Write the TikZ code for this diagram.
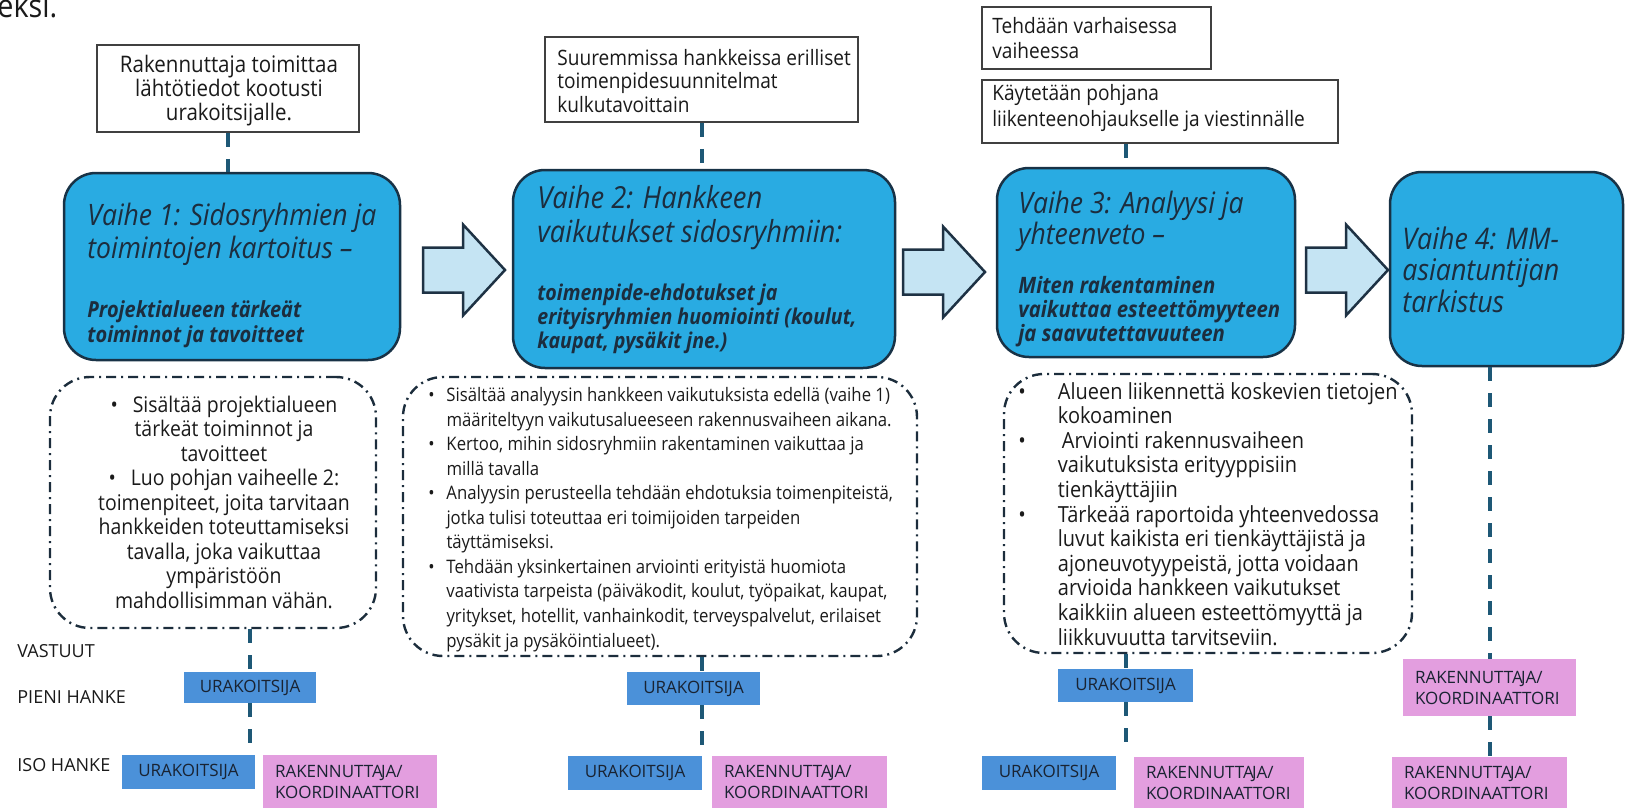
\documentclass[tikz,border=0pt]{standalone}
\usepackage{fontspec}
\usepackage{array}
\setmainfont[FakeStretch=0.9]{Open Sans}
\newfontfamily\capsfont{Open Sans}
\usetikzlibrary{calc}
\newcommand{\fsz}[2]{\fontsize{#1}{#2}\selectfont}
\newcommand{\rakko}{RAKENNUTTA\kern-0.9ptJA/\\KOORDINAATTORI}
\definecolor{phaseblue}{RGB}{41,171,226}
\definecolor{phaseline}{RGB}{24,50,70}
\definecolor{arrowfill}{RGB}{197,228,243}
\definecolor{arrowline}{RGB}{30,50,68}
\definecolor{linkteal}{RGB}{30,88,118}
\definecolor{ddline}{RGB}{28,45,60}
\definecolor{noteline}{RGB}{64,64,64}
\definecolor{urakblue}{RGB}{75,145,217}
\definecolor{rakpink}{RGB}{227,158,223}
\definecolor{boxtext}{RGB}{25,35,50}
\definecolor{titletext}{RGB}{28,45,62}
\definecolor{bodytext}{RGB}{26,26,26}
\tikzset{
  phase/.style={draw=phaseline, line width=1.25pt, fill=phaseblue, rounded corners=16pt, inner sep=0pt},
  note/.style={draw=noteline, line width=0.75pt, fill=white, inner sep=0pt},
  ddbox/.style={draw=ddline, line width=1.2pt, rounded corners=20pt, dash pattern=on 5pt off 2.5pt on 1pt off 2.5pt, inner sep=0pt},
  link/.style={draw=linkteal, line width=2pt, dash pattern=on 7pt off 6pt},
  blockarrow/.style={draw=arrowline, line width=1.25pt, fill=arrowfill, line join=miter},
  urak/.style={fill=urakblue, inner sep=0pt, text=boxtext, font=\capsfont\fsz{8.5}{10.5}},
  rak/.style={fill=rakpink, inner xsep=6pt, inner ysep=0pt, align=left, text=boxtext, font=\capsfont\fsz{8.5}{10.5}},
  txt/.style={inner sep=0pt, anchor=base west, text=bodytext},
  ctxt/.style={inner sep=0pt, anchor=base, text=bodytext},
  ttl/.style={inner sep=0pt, anchor=base west, text=titletext},
}
\begin{document}
\begin{tikzpicture}[x=0.5pt,y=-0.5pt]
\useasboundingbox (0,0) rectangle (1627,809);
\clip (0,0) rectangle (1627,809);

% fragment of text cut at the top
\node[txt] (frag) at (-3,17) {\fsz{16}{19}eksi.};

% top notes
\node[note, minimum width=131pt, minimum height=43.5pt] (n1) at (228,88.5) {};
\node[note, minimum width=156.5pt, minimum height=42.5pt] (n2) at (701.5,79.5) {};
\node[note, minimum width=114.5pt, minimum height=31pt] (n3a) at (1096.5,38) {};
\node[note, minimum width=178pt, minimum height=31.5pt] (n3b) at (1160,111.5) {};

\node[ctxt] (n1t) at (229,72) {\fsz{11.4}{11.5}\begin{tabular}[t]{@{}c@{}}Rakennuttaja toimittaa\\lähtötiedot kootusti\\urakoitsijalle.\end{tabular}};
\node[txt] (n2t) at (557,65) {\fsz{10.6}{11.75}\begin{tabular}[t]{@{}l@{}}Suuremmissa hankkeissa erilliset\\toimenpidesuunnitelmat\\kulkutavoittain\end{tabular}};
\node[txt] (n3at) at (992,33) {\fsz{10.6}{12.5}\begin{tabular}[t]{@{}l@{}}Tehdään varhaisessa\\vaiheessa\end{tabular}};
\node[txt] (n3bt) at (992,100) {\fsz{10.6}{13}\begin{tabular}[t]{@{}l@{}}Käytetään pohjana\\liikenteenohjaukselle ja viestinnälle\end{tabular}};

% phase boxes
\node[phase, minimum width=168pt, minimum height=93.5pt] (v1) at (232,266.5) {};
\node[phase, minimum width=191pt, minimum height=99pt] (v2) at (704,269) {};
\node[phase, minimum width=149pt, minimum height=94.5pt] (v3) at (1146,262.5) {};
\node[phase, minimum width=116.5pt, minimum height=97pt] (v4) at (1506.5,269) {};

\node[ttl] (v1t) at (87,225) {\fsz{14.75}{16.5}\begin{tabular}[t]{@{}>{\itshape}l@{}}Vaihe 1: Sidosryhmien ja\\toimintojen kartoitus –\end{tabular}};
\node[ttl] (v1b) at (87,317) {\fsz{11.1}{12.5}\begin{tabular}[t]{@{}>{\bfseries\itshape}l@{}}Projektialueen tärkeät\\toiminnot ja tavoitteet\end{tabular}};
\node[ttl] (v2t) at (537,208) {\fsz{15.2}{17}\begin{tabular}[t]{@{}>{\itshape}l@{}}Vaihe 2: Hankkeen\\vaikutukset sidosryhmiin:\end{tabular}};
\node[ttl] (v2b) at (537,300) {\fsz{10.9}{12}\begin{tabular}[t]{@{}>{\bfseries\itshape}l@{}}toimenpide-ehdotukset ja\\erityisryhmien huomiointi (koulut,\\kaupat, pysäkit jne.)\end{tabular}};
\node[ttl] (v3t) at (1018,213) {\fsz{14.75}{15}\begin{tabular}[t]{@{}>{\itshape}l@{}}Vaihe 3: Analyysi ja\\yhteenveto –\end{tabular}};
\node[ttl] (v3b) at (1018,293) {\fsz{11.3}{12}\begin{tabular}[t]{@{}>{\bfseries\itshape}l@{}}Miten rakentaminen\\vaikuttaa esteettömyyteen\\ja saavutettavuuteen\end{tabular}};
\node[ttl] (v4t) at (1402,249) {\fsz{14.9}{15.5}\begin{tabular}[t]{@{}>{\itshape}l@{}}Vaihe 4: MM-\\asiantuntijan\\tarkistus\end{tabular}};

% block arrows
\coordinate (a1) at (423,270);
\coordinate (a2) at (903,272);
\coordinate (a3) at (1306,270);
\foreach \a in {a1,a2,a3}{
  \draw[blockarrow] (\a) ++(0,-22.5) -- ++(40,0) -- ++(0,-23) -- ++(42,45.5) -- ++(-42,45.5) -- ++(0,-23) -- ++(-40,0) -- cycle;
}

% detail boxes
\node[ddbox, minimum width=163pt, minimum height=125.5pt] (dd1) at (213,502.5) {};
\node[ddbox, minimum width=257pt, minimum height=139.5pt] (dd2) at (660,516.5) {};
\node[ddbox, minimum width=204pt, minimum height=139.5pt] (dd3) at (1208,513.5) {};

\node[ctxt] (dd1t) at (224,412) {\fsz{10.8}{12.25}\begin{tabular}[t]{@{}c@{}}
•\hspace{7.4pt}Sisältää projektialueen\hspace{9pt}\\
tärkeät toiminnot ja\\
tavoitteet\\
•\hspace{7.4pt}Luo pohjan vaiheelle 2:\hspace{8pt}\\
toimenpiteet, joita tarvitaan\\
hankkeiden toteuttamiseksi\\
tavalla, joka vaikuttaa\\
ympäristöön\\
mahdollisimman vähän.\end{tabular}};

\node[txt] (dd2t) at (428,401.5) {\fsz{9.3}{12.275}\begin{tabular}[t]{@{}l@{\hspace{5.9pt}}l@{}}
• & Sisältää analyysin hankkeen vaikutuksista edellä (vaihe 1)\\
  & määriteltyyn vaikutusalueeseen rakennusvaiheen aikana.\\
• & Kertoo, mihin sidosryhmiin rakentaminen vaikuttaa ja\\
  & millä tavalla\\
• & Analyysin perusteella tehdään ehdotuksia toimenpiteistä,\\
  & jotka tulisi toteuttaa eri toimijoiden tarpeiden\\
  & täyttämiseksi.\\
• & Tehdään yksinkertainen arviointi erityistä huomiota\\
  & vaativista tarpeista (päiväkodit, koulut, työpaikat, kaupat,\\
  & yritykset, hotellit, vanhainkodit, terveyspalvelut, erilaiset\\
  & pysäkit ja pysäköintialueet).\end{tabular}};

\node[txt] (dd3t) at (1018,399) {\fsz{11.1}{12.3}\begin{tabular}[t]{@{}l@{\hspace{16pt}}l@{}}
• & Alueen liikennettä koskevien tietojen\\
  & kokoaminen\\
• & \hspace{2pt}Arviointi rakennusvaiheen\\
  & vaikutuksista erityyppisiin\\
  & tienkäyttäjiin\\
• & Tärkeää raportoida yhteenvedossa\\
  & luvut kaikista eri tienkäyttäjistä ja\\
  & ajoneuvotyypeistä, jotta voidaan\\
  & arvioida hankkeen vaikutukset\\
  & kaikkiin alueen esteettömyyttä ja\\
  & liikkuvuutta tarvitseviin.\end{tabular}};

% row labels
\node[txt, font=\capsfont\fsz{9}{11}] (lv) at (17,657) {VASTUUT};
\node[txt, font=\capsfont\fsz{9}{11}] (lp) at (17,703) {PIENI HANKE};
\node[txt, font=\capsfont\fsz{9}{11}] (li) at (17,771) {ISO HANKE};

% responsibility boxes
\node[urak, minimum width=66pt, minimum height=15.5pt] (p1) at (250,687.5) {URAKOITSIJA};
\node[urak, minimum width=66.5pt, minimum height=17pt] (i1u) at (188.5,772) {URAKOITSIJA};
\node[rak, text width=75pt, minimum height=26.5pt] (i1r) at (350,781.5) {\rakko};

\node[urak, minimum width=66.5pt, minimum height=16.5pt] (p2) at (693.5,688.5) {URAKOITSIJA};
\node[urak, minimum width=67pt, minimum height=17pt] (i2u) at (635,773) {URAKOITSIJA};
\node[rak, text width=75.5pt, minimum height=26pt] (i2r) at (799.5,782) {\rakko};

\node[urak, minimum width=67.5pt, minimum height=16.5pt] (p3) at (1125.5,685.5) {URAKOITSIJA};
\node[urak, minimum width=67pt, minimum height=17pt] (i3u) at (1049,773) {URAKOITSIJA};
\node[rak, text width=73pt, minimum height=25.5pt] (i3r) at (1219,782.5) {\rakko};

\node[rak, text width=74.5pt, minimum height=28.5pt] (p4) at (1489.5,687.5) {\rakko};
\node[rak, text width=75.5pt, minimum height=25.5pt] (i4) at (1479.5,782.5) {\rakko};

% connectors
\coordinate (k2) at (702,0);
\coordinate (k3) at (1126,0);
\draw[link] (n1.south) -- (n1.south |- v1.north);
\draw[link] (n2.south) -- (n2.south |- v2.north);
\draw[link] (n3b.south -| k3) -- (v3.north -| k3);
\draw[link] (dd1.south -| p1.north) -- (p1.north);
\draw[link] (p1.south) -- (p1.south |- i1u.north);
\draw[link] (dd2.south -| k2) -- (p2.north -| k2);
\draw[link] (p2.south -| k2) -- (i2u.north -| k2);
\draw[link] (dd3.south -| p3.north) -- (p3.north);
\draw[link] (p3.south) -- ($(p3.south |- i3u.north)+(0,-8)$);
\draw[link] (v4.south -| p4.north) -- (p4.north);
\draw[link] (p4.south) -- (p4.south |- i4.north);
\end{tikzpicture}
\end{document}
